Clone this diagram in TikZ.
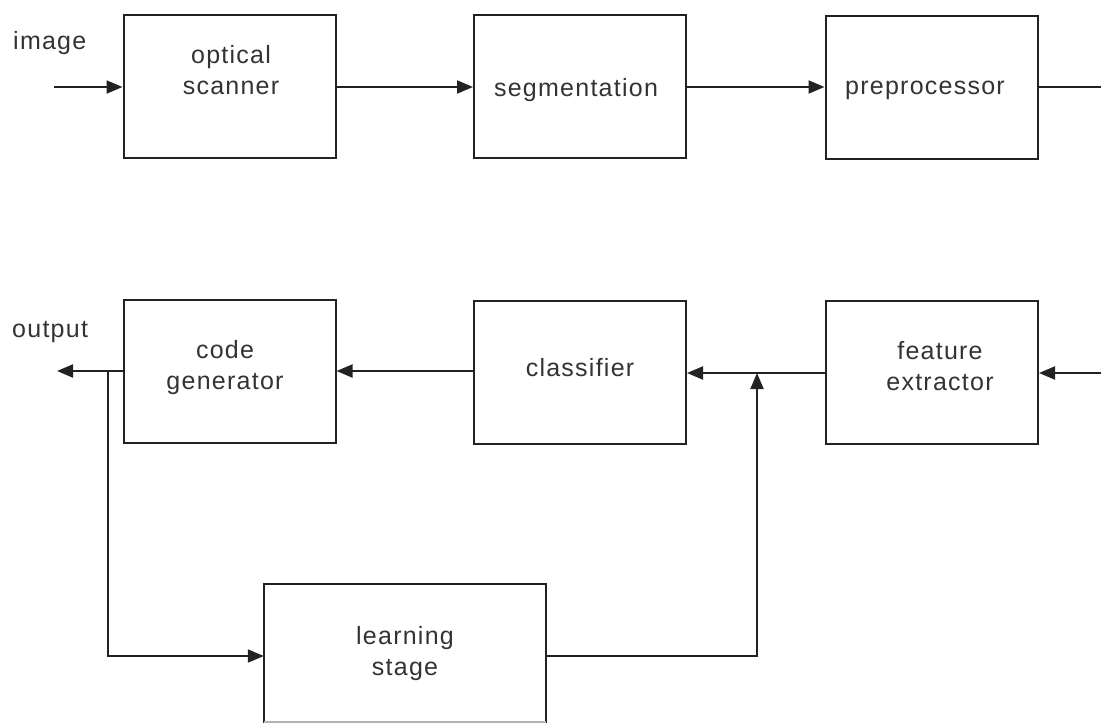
\documentclass[tikz,border=0pt]{standalone}
\usepackage{fontspec}
\setmainfont{Liberation Sans}[LetterSpace=5]
\usetikzlibrary{arrows.meta}
\definecolor{ink}{HTML}{222222}
\definecolor{txt}{HTML}{333333}
\tikzset{
  blk/.style={draw=ink, line width=2pt, rectangle, minimum width=212pt, minimum height=143pt, inner sep=0pt},
  lbl/.style={text=txt, font=\fontsize{25}{31}\selectfont, align=center, inner sep=0pt},
  wire/.style={draw=ink, line width=2pt},
  flow/.style={wire, -{Triangle[length=16pt,width=13pt]}}
}
\begin{document}
\begin{tikzpicture}[x=1pt,y=-1pt]
\useasboundingbox (0,0) rectangle (1101,723);
% processing chain, top row
\node[blk] (scan) at (229.5,86) {};
\node[blk] (seg)  at (580,86) {};
\node[blk] (pre)  at (931.5,87) {};
% processing chain, bottom row
\node[blk] (code) at (229.5,371) {};
\node[blk] (cls)  at (580,372) {};
\node[blk] (feat) at (932,372.5) {};
% learning stage, its lower edge only faintly printed
\coordinate (lnw) at (264,584);
\coordinate (lne) at (546,584);
\node[inner sep=0pt, minimum width=282pt, minimum height=137pt] (learn) at (405,652.5) {};
\draw[wire] (264,740) -- (lnw) -- (lne) -- (546,740);
\draw[draw=ink!35, line width=2pt] (264,721.5) -- (546,721.5);
% box texts
\node[lbl] (tscan) at (231,70) {optical\\scanner};
\node[lbl] (tseg)  at (576,90) {segmentation};
\node[lbl] (tpre)  at (925,90) {preprocessor};
\node[lbl] (tcode) at (225,368) {code\\generator};
\node[lbl] (tcls)  at (580,368) {classifier};
\node[lbl] (tfeat) at (940,366) {feature\\extractor};
\node[lbl] (tlearn) at (405,654) {learning\\stage};
\node[lbl, anchor=base west] (timg) at (13,49) {image};
\node[lbl, anchor=base west] (tout) at (12,337) {output};
% connector end points
\coordinate (inL) at (54,87);
\coordinate (outR) at (1101,87);
\coordinate (inR) at (1101,373);
\coordinate (outL) at (57,371);
\coordinate (split) at (108,371);
\coordinate (join) at (757,373);
% connectors
\draw[flow] (inL) -- (inL -| scan.west);
\draw[flow] (scan.east |- inL) -- (seg.west |- inL);
\draw[flow] (seg.east |- inL) -- (pre.west |- inL);
\draw[wire] (pre.east |- outR) -- (outR);
\draw[flow] (inR) -- (feat.east |- inR);
\draw[flow] (feat.west |- join) -- (cls.east |- join);
\draw[flow] (cls.west |- outL) -- (code.east |- outL);
\draw[flow] (code.west |- outL) -- (outL);
\draw[flow] (split) |- (learn.west |- 0,656);
\draw[flow] (learn.east |- 0,656) -| (join);
\end{tikzpicture}
\end{document}
